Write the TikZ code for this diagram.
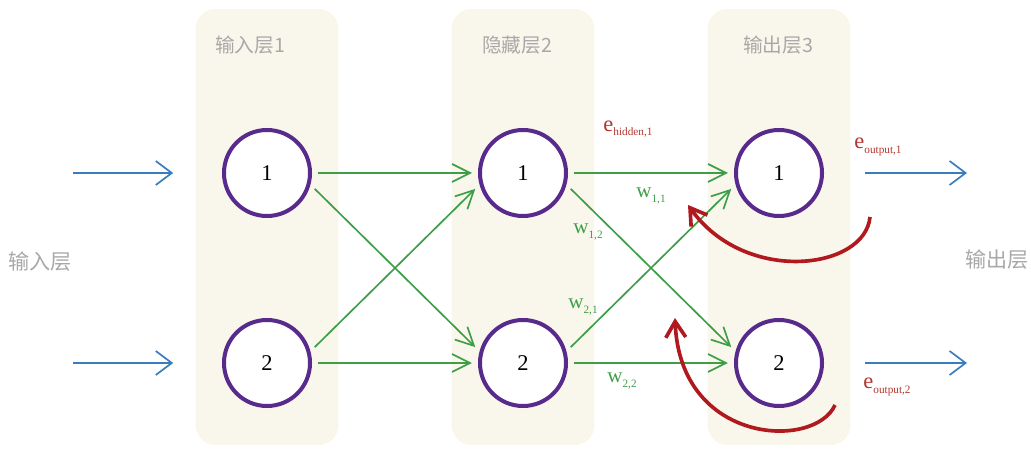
\documentclass[tikz,border=0pt]{standalone}
\usepackage{fontspec}
\setmainfont{Liberation Serif}
\newfontfamily\cjk{Noto Sans CJK SC}
\usepackage{tikz}
\usetikzlibrary{arrows.meta,positioning,calc}
\definecolor{panelbg}{HTML}{F9F7EB}
\definecolor{unitline}{HTML}{582A8C}
\definecolor{sig}{HTML}{3A7DBE}
\definecolor{wire}{HTML}{3E9E48}
\definecolor{err}{HTML}{B0191E}
\definecolor{errtext}{HTML}{B3352E}
\definecolor{caption}{HTML}{A8A8A8}
\newcommand{\lbl}[2]{#1\raisebox{-0.45ex}{\fontsize{8}{8}\selectfont #2}}

\begin{document}
\begin{tikzpicture}[
  x=0.025cm, y=-0.025cm,
  panel/.style={fill=panelbg, rounded corners=0.5cm, minimum width=3.57cm, minimum height=10.9cm, inner sep=0pt},
  layername/.style={font=\cjk\fontsize{14}{14}\selectfont, text=caption},
  unit/.style={circle, draw=unitline, line width=0.1cm, fill=white, minimum size=2.15cm, font=\fontsize{16}{16}\selectfont},
  sigarrow/.style={-{Straight Barb[length=0.4cm,width=0.6cm]}, draw=sig, line width=1.2pt},
  wirearrow/.style={-{Straight Barb[length=0.45cm,width=0.45cm]}, draw=wire, line width=1.2pt, shorten <=0.15cm, shorten >=0.15cm},
  errarrow/.style={-{Straight Barb[length=0.4cm,width=0.5cm]}, draw=err, line width=2.6pt},
  wlabel/.style={text=wire, font=\fontsize{15}{15}\selectfont},
  elabel/.style={text=errtext, font=\fontsize{16}{16}\selectfont}
]
  \useasboundingbox (0,0) rectangle (1031,451);

  % layer panels
  \node[panel] (p1) at (267,227) {};
  \node[panel] (p2) at (523,227) {};
  \node[panel] (p3) at (779,227) {};
  \node[layername] (t1) at (250,45) {输入层1};
  \node[layername] (t2) at (517,45) {隐藏层2};
  \node[layername] (t3) at (778,45) {输出层3};
  \node[layername, font=\cjk\fontsize{15}{15}\selectfont] (tin) at (40,262) {输入层};
  \node[layername, font=\cjk\fontsize{15}{15}\selectfont] (tout) at (997,260) {输出层};

  % units
  \node[unit] (i1) at (267,173) {1};
  \node[unit] (i2) at (267,363) {2};
  \node[unit] (h1) at (523,173) {1};
  \node[unit] (h2) at (523,363) {2};
  \node[unit] (o1) at (779,173) {1};
  \node[unit] (o2) at (779,363) {2};

  % signals in and out
  \coordinate (x1) at (73,173);
  \coordinate (x2) at (73,363);
  \coordinate (y1) at (967,173);
  \coordinate (y2) at (967,363);
  \draw[sigarrow, shorten >=1.22cm] (x1) -- (i1);
  \draw[sigarrow, shorten >=1.22cm] (x2) -- (i2);
  \draw[sigarrow, shorten <=1.03cm] (o1) -- (y1);
  \draw[sigarrow, shorten <=1.03cm] (o2) -- (y2);

  % weights
  \draw[wirearrow] (i1) -- (h1);
  \draw[wirearrow] (i1.-15) -- (h2.165);
  \draw[wirearrow] (i2.15) -- (h1.-165);
  \draw[wirearrow] (i2) -- (h2);
  \draw[wirearrow] (h1) -- (o1);
  \draw[wirearrow] (h1.-15) -- (o2.165);
  \draw[wirearrow] (h2.15) -- (o1.-165);
  \draw[wirearrow] (h2) -- (o2);

  \node[wlabel] (w11) at (651,196) {\lbl{w}{1,1}};
  \node[wlabel] (w12) at (588,232) {\lbl{w}{1,2}};
  \node[wlabel] (w21) at (583,307) {\lbl{w}{2,1}};
  \node[wlabel] (w22) at (622,381) {\lbl{w}{2,2}};

  % errors
  \node[elabel] (eh1) at (628,129) {\lbl{e}{hidden,1}};
  \node[elabel] (eo1) at (878,147) {\lbl{e}{output,1}};
  \node[elabel] (eo2) at (887,387) {\lbl{e}{output,2}};

  \coordinate (r1a) at (870,217);
  \coordinate (r1b) at (688,205);
  \coordinate (r2a) at (835,405);
  \coordinate (r2b) at (675,318);
  \draw[errarrow] (r1a) .. controls (865,270) and (745,285) .. (r1b);
  \draw[errarrow] (r2a) .. controls (815,450) and (680,445) .. (r2b);
\end{tikzpicture}
\end{document}
